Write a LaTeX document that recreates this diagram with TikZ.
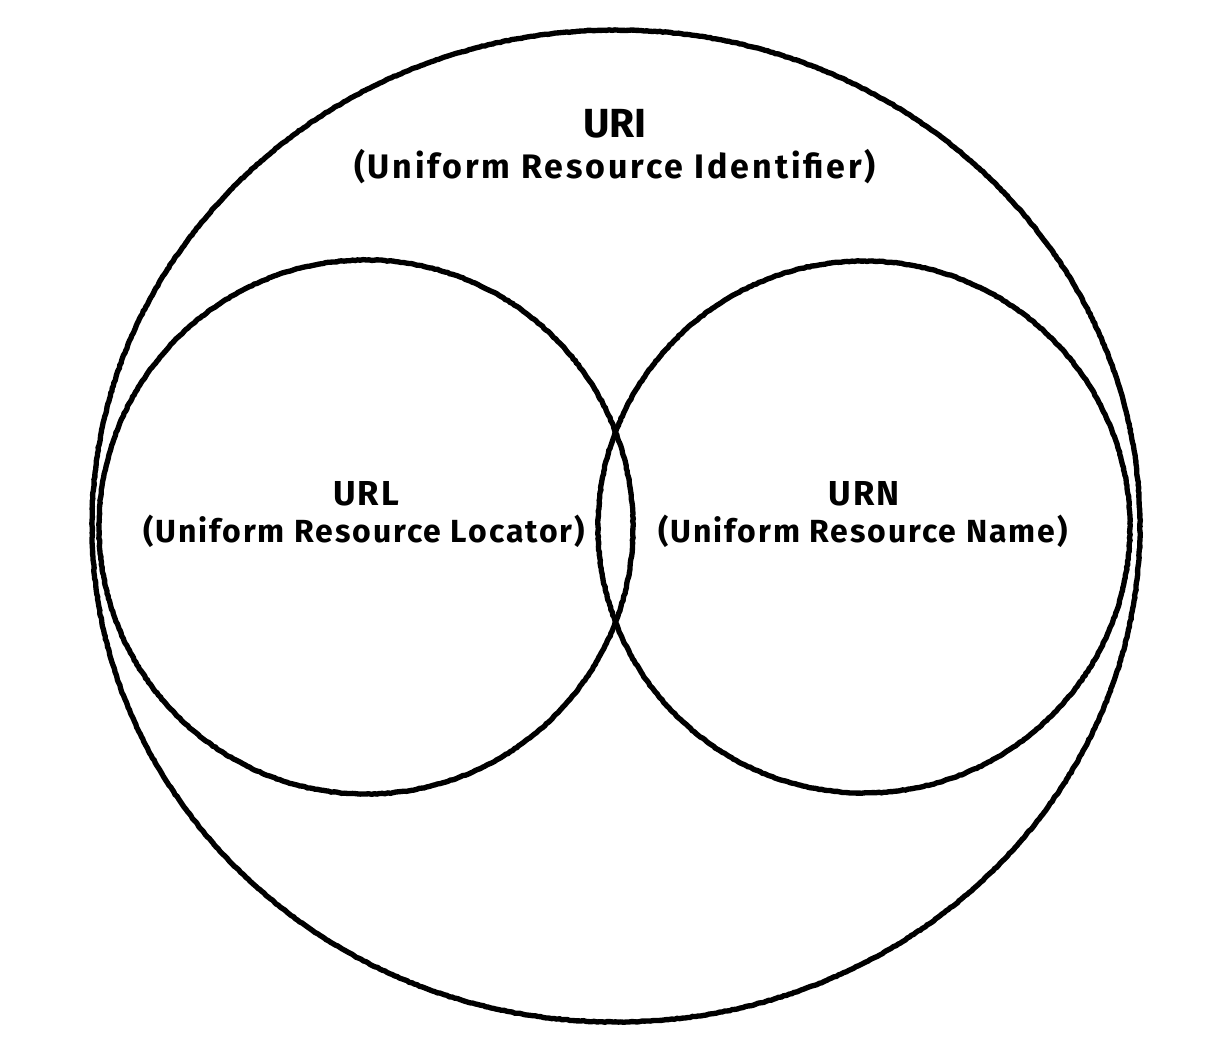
\documentclass[tikz,border=0pt]{standalone}
\usepackage{fontspec}
\setmainfont{Fira Sans}
\usetikzlibrary{decorations.pathmorphing}

\tikzset{every picture/.style={line width=0.75pt}}
\tikzset{
  ring/.style={draw=black, line width=4pt, decorate, decoration={random steps, segment length=2pt, amplitude=0.3pt}},
  label/.style={font=\bfseries\fontsize{24}{28}\selectfont\addfontfeatures{LetterSpace=6}, anchor=base, inner sep=0pt},
  title/.style={font=\bfseries\fontsize{26}{30}\selectfont\addfontfeatures{LetterSpace=6}, anchor=base, inner sep=0pt}
}

\begin{document}
\begin{tikzpicture}[x=0.75pt,y=0.75pt,yscale=-1,xscale=1]
	\useasboundingbox (0,0) rectangle (1230,1056);

	%Ellipse URI
	\draw [ring] (616,526) ellipse [x radius=524, y radius=496];
	%Circle URL
	\draw [ring] (366,527) circle [radius=267];
	%Circle URN
	\draw [ring] (864,527) circle [radius=266];

	% Text Node
	\node [title, font=\bfseries\fontsize{30.5}{34}\selectfont] (uri) at (615,137) {URI};
	% Text Node
	\node [label, font=\bfseries\fontsize{25.5}{30}\selectfont\addfontfeatures{LetterSpace=8.5}] (urifull) at (615,178) {(Uniform Resource Identifier)};
	% Text Node
	\node [title] (url) at (366,505) {URL};
	% Text Node
	\node [label] (urlfull) at (364,542) {(Uniform Resource Locator)};
	% Text Node
	\node [title] (urn) at (864,505) {URN};
	% Text Node
	\node [label] (urnfull) at (863,542) {(Uniform Resource Name)};

\end{tikzpicture}
\end{document}
